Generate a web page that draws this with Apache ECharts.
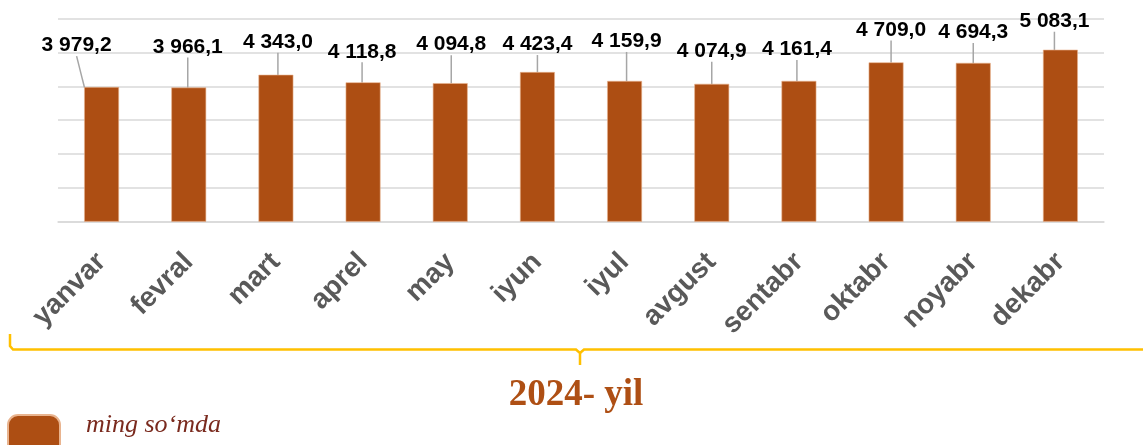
<!DOCTYPE html>
<html>
<head>
<meta charset="utf-8">
<script src="https://cdn.jsdelivr.net/npm/echarts@6/dist/echarts.min.js"></script>
<style>
html,body{margin:0;padding:0;background:#fff;}
#chart{width:1143px;height:445px;}
</style>
</head>
<body>
<div id="chart"></div>
<script>
const categories = ['yanvar','fevral','mart','aprel','may','iyun','iyul','avgust','sentabr','oktabr','noyabr','dekabr'];
const values = [3979.2, 3966.1, 4343.0, 4118.8, 4094.8, 4423.4, 4159.9, 4074.9, 4161.4, 4709.0, 4694.3, 5083.1];
const seriesName = 'ming so‘mda';
const periodLabel = '2024- yil';
const yTicks = {min: 0, max: 6000, interval: 1000};

// label offsets (style only)
const labelOffsets = [[-25,-26],[-1,-25],[2,-17],[-1,-15],[1,-23],[0,-12],[2,-24],[0,-17],[-2,-16],[5,-17],[0,-15],[-6,-13]];

function fmt(v){
  const s = v.toFixed(1).split('.');
  const int = s[0].replace(/\B(?=(\d{3})+(?!\d))/g,' ');
  return int + ',' + s[1];
}

const chart = echarts.init(document.getElementById('chart'));
chart.setOption({
  animation: false,
  backgroundColor: '#fff',
  grid: {left: 58, right: 39, top: 18.7, bottom: 223.3, containLabel: false},
  xAxis: {
    type: 'category',
    data: categories,
    axisLine: {lineStyle: {color: '#D9D9D9', width: 1.5}},
    axisTick: {show: false},
    axisLabel: {
      rotate: 45, interval: 0, margin: 36,
      fontSize: 28, fontWeight: 'bold', color: '#595959',
      fontFamily: 'Liberation Sans, Arial, sans-serif'
    }
  },
  yAxis: {
    type: 'value', min: yTicks.min, max: yTicks.max, interval: yTicks.interval,
    axisLabel: {show: false}, axisLine: {show: false}, axisTick: {show: false},
    splitLine: {lineStyle: {color: '#D9D9D9', width: 1.5}}
  },
  legend: {
    data: [seriesName], left: 7, top: 412, padding: 0, itemWidth: 52, itemHeight: 40,
    icon: 'roundRect',
    formatter: name => name + '\n ',
    textStyle: {fontFamily: 'Liberation Serif, Times New Roman, serif', fontStyle: 'italic',
      fontSize: 26, lineHeight: 20, color: '#7A2A1E', padding: [0, 0, 0, 21]}
  },
  series: [{
    name: seriesName,
    type: 'bar',
    data: values,
    barWidth: '40%',
    itemStyle: {color: '#AD4E13', borderColor: '#E9B48F', borderWidth: 0.6},
    label: {
      show: true, position: 'top', distance: 5,
      formatter: p => fmt(p.value),
      fontSize: 21, fontWeight: 'bold', color: '#000',
      fontFamily: 'Liberation Sans, Arial, sans-serif'
    },
    labelLine: {show: true, lineStyle: {color: '#A6A6A6', width: 1.5}},
    labelLayout: p => ({dx: labelOffsets[p.dataIndex][0], dy: labelOffsets[p.dataIndex][1]})
  }],
  graphic: [
    {type: 'polyline', shape: {points: [[10,334],[10,346],[13,349.5],[576,349.5],[580,353],[580,365]]},
      style: {stroke: '#FFC000', lineWidth: 2.5, fill: null}},
    {type: 'polyline', shape: {points: [[580,353],[584,349.5],[1143,349.5]]},
      style: {stroke: '#FFC000', lineWidth: 2.5, fill: null}},
    {type: 'text', x: 576, y: 395, style: {text: periodLabel, fill: '#AE4F14',
      font: 'bold 37px "Liberation Serif", "Times New Roman", serif', textAlign: 'center', textVerticalAlign: 'middle'}}
  ]
});
</script>
</body>
</html>
